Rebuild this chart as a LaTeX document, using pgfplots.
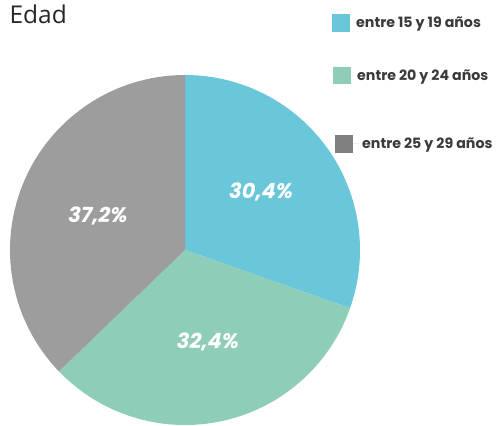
\documentclass[border=0pt]{standalone}
\usepackage{pgfplots}
\pgfplotsset{compat=1.18}
\usepackage{fontspec}
\setmainfont{Open Sans}
\newfontfamily\pop{Poppins}
\definecolor{cblue}{HTML}{6AC6D9}
\definecolor{cgreen}{HTML}{8ECDB8}
\definecolor{cgrey}{HTML}{9D9D9D}
\definecolor{cgreyL}{HTML}{808080}
\definecolor{ctext}{HTML}{3A3A3A}
% data (percent)
\def\vA{30.4}
\def\vB{32.4}
\def\vC{37.2}
\pgfmathsetmacro\aA{90}
\pgfmathsetmacro\aB{\aA-\vA*3.6}
\pgfmathsetmacro\aC{\aB-\vB*3.6}
\pgfmathsetmacro\aD{\aC-\vC*3.6}
\pgfplotsset{
  base/.style={scale only axis, width=497pt, height=425pt,
    xmin=0, xmax=497, ymin=0, ymax=425, hide axis, clip=false},
  leg/.style={legend cell align=left,
    legend style={draw=none, fill=none, at={(axis cs:#1)}, anchor=west,
      inner sep=0pt,
      nodes={font=\pop\bfseries\fontsize{14.2}{17}\selectfont, text=ctext, inner sep=0pt}},
    legend image code/.code={\fill[draw=none,##1] (0pt,-8.75pt) rectangle (17.5pt,8.75pt);
      \path (0pt,0pt) -- (24pt,0pt);}},
}
\begin{document}
\begin{tikzpicture}
\begin{axis}[base]
\path (axis cs:0,0) rectangle (axis cs:497,425);
\addplot[draw=none, fill=cblue, domain=\aB:\aA, samples=120, variable=\t, forget plot]
  ({185+175*cos(\t)},{175+175*sin(\t)}) -- (axis cs:185,175) -- cycle;
\addplot[draw=none, fill=cgreen, domain=\aC:\aB, samples=120, variable=\t, forget plot]
  ({185+175*cos(\t)},{175+175*sin(\t)}) -- (axis cs:185,175) -- cycle;
\addplot[draw=none, fill=cgrey, domain=\aD:\aC, samples=120, variable=\t, forget plot]
  ({185+175*cos(\t)},{175+175*sin(\t)}) -- (axis cs:185,175) -- cycle;
\node[anchor=base west, font=\fontsize{24.5}{28}\selectfont, text=black!85] at (axis cs:6,401.5) {Edad};
\node[font=\pop\bfseries\itshape\fontsize{21}{24}\selectfont, text=white] at (axis cs:261,233) {30,4\%};
\node[font=\pop\bfseries\itshape\fontsize{21}{24}\selectfont, text=white] at (axis cs:208,83) {32,4\%};
\node[font=\pop\bfseries\itshape\fontsize{21}{24}\selectfont, text=white] at (axis cs:98,209) {37,2\%};
\end{axis}
\begin{axis}[base, leg={332,402}]
\addlegendimage{fill=cblue, draw=none}
\addlegendentry{entre 15 y 19 años}
\end{axis}
\begin{axis}[base, leg={333,349.5}]
\addlegendimage{fill=cgreen, draw=none}
\addlegendentry{entre 20 y 24 años}
\end{axis}
\begin{axis}[base, leg={335,281}]
\addlegendimage{fill=cgreyL, draw=none}
\addlegendentry{\ entre 25 y 29 años}
\end{axis}
\end{tikzpicture}
\end{document}
